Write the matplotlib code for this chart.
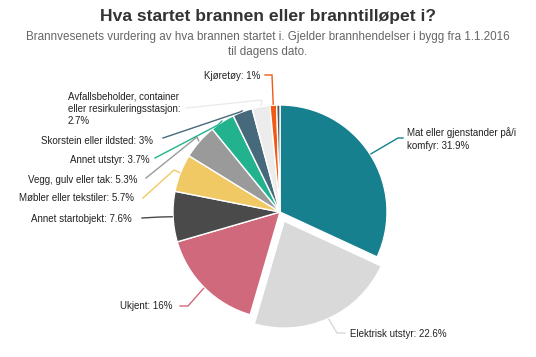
import matplotlib
matplotlib.use("Agg")
import matplotlib.pyplot as plt
import numpy as np

plt.rcParams['font.family'] = ['Liberation Sans', 'DejaVu Sans']

categories = ["Mat eller gjenstander på/i komfyr", "Elektrisk utstyr", "Ukjent",
              "Annet startobjekt", "Møbler eller tekstiler", "Vegg, gulv eller tak",
              "Annet utstyr", "Skorstein eller ildsted",
              "Avfallsbeholder, container eller resirkuleringsstasjon", "Kjøretøy", ""]
values = [31.9, 22.6, 16, 7.6, 5.7, 5.3, 3.7, 3, 2.7, 1, 0.5]
colors = ["#16808f", "#d9d9d9", "#cf697b", "#4a4a4a", "#f0c964", "#9a9a9a",
          "#22b28d", "#466a7b", "#ececec", "#f05a14", "#555555"]
sliced = [False, True, False, False, False, False, False, False, False, False, False]
label_texts = ["Mat eller gjenstander på/i\nkomfyr: 31.9%", None, None, None, None, None, None, None,
               "Avfallsbeholder, container\neller resirkuleringsstasjon:\n2.7%", None, None]

W, H = 536, 357
fig = plt.figure(figsize=(W / 100, H / 100), dpi=100)
ax = fig.add_axes([0, 0, 1, 1])

cx, cy, R = 280, H - 212, 107
explode = [10 if s else 0 for s in sliced]
wedges, _ = ax.pie(values, colors=colors, startangle=90, counterclock=False,
                   center=(cx, cy), radius=R, explode=explode,
                   wedgeprops=dict(edgecolor="white", linewidth=1.0))
ax.set_xlim(0, W)
ax.set_ylim(0, H)
ax.set_aspect('equal')
ax.axis('off')

# layout: label anchor (x, y top-origin), alignment, bend point, line end near label
layout = {
    0: dict(tx=407, ty=139, ha="left", bend=(398, 138), end=(403, 138)),
    1: dict(tx=350, ty=334, ha="left", bend=(337, 333), end=(345, 333)),
    2: dict(tx=172, ty=306, ha="right", bend=(188, 306), end=(180, 306)),
    3: dict(tx=132, ty=219, ha="right", bend=(160, 217), end=(142, 218)),
    4: dict(tx=134, ty=198, ha="right", bend=(174, 170), end=(143, 198)),
    5: dict(tx=137, ty=180, ha="right", bend=(197, 137), end=(146, 178)),
    6: dict(tx=150, ty=160, ha="right", bend=(218, 125), end=(155, 158)),
    7: dict(tx=153, ty=141, ha="right", bend=(240, 112), end=(163, 138)),
    8: dict(tx=68, ty=109, ha="left", bend=(262, 100), end=(186, 108)),
    9: dict(tx=260, ty=76, ha="right", bend=(272, 75), end=(265, 75)),
}

for i, w in enumerate(wedges):
    if i not in layout:
        continue
    L = layout[i]
    theta = np.deg2rad((w.theta1 + w.theta2) / 2)
    wx0, wy0 = w.center
    px = wx0 + (w.r + 1) * np.cos(theta)
    py = wy0 + (w.r + 1) * np.sin(theta)
    bx, by = L["bend"]
    ex, ey = L["end"]
    ax.plot([px, bx, ex], [py, H - by, H - ey], color=colors[i], lw=1.0,
            solid_joinstyle="miter")
    txt = label_texts[i] if label_texts[i] else f"{categories[i]}: {values[i]:g}%"
    ax.text(L["tx"], H - L["ty"], txt, ha=L["ha"], va="center", fontsize=7.0,
            color="#222222", linespacing=1.3, multialignment="left")

ax.text(W / 2, H - 17, "Hva startet brannen eller branntilløpet i?", ha="center",
        va="center", fontsize=12.6, fontweight="bold", color="#333333")
ax.text(W / 2, H - 44.5, "Brannvesenets vurdering av hva brannen startet i. Gjelder brannhendelser i bygg fra 1.1.2016\ntil dagens dato.",
        ha="center", va="center", fontsize=8.35, color="#666666", linespacing=1.35)

fig.savefig("out.png", dpi=100)
